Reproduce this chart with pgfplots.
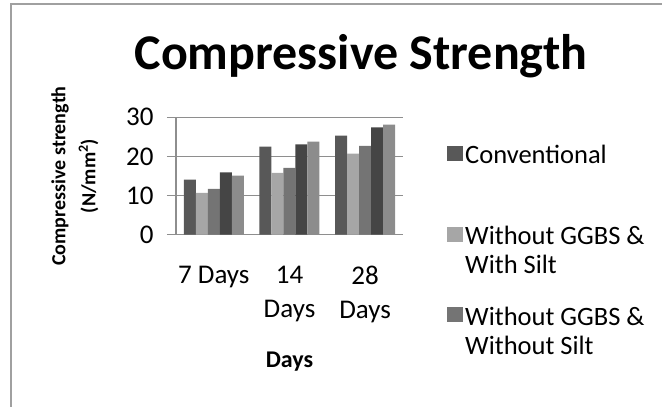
\documentclass[border=0pt]{standalone}
\usepackage{pgfplots}
\pgfplotsset{compat=1.18}
\usepackage{fontspec}
\setmainfont{Carlito}
\definecolor{c1}{HTML}{585858}
\definecolor{c2}{HTML}{A6A6A6}
\definecolor{c3}{HTML}{747474}
\definecolor{c4}{HTML}{454545}
\definecolor{c5}{HTML}{8C8C8C}
\definecolor{gridc}{HTML}{8E8E8E}
\definecolor{framec}{HTML}{A0A0A0}
\begin{document}
\begin{tikzpicture}
\useasboundingbox (0,0) rectangle (662pt,407pt);
\draw[color=framec, line width=2pt] (11pt,-10pt) -- (11pt,403pt) -- (680pt,403pt);
\node[font=\fontsize{50}{60}\selectfont\bfseries, anchor=base] at (361pt,337pt) {Compressive Strength};
\begin{axis}[
  at={(176pt,172.3pt)}, anchor=south west,
  scale only axis, width=227pt, height=117.4pt,
  ybar=0pt, bar width=12pt,
  xmin=-0.5, xmax=2.5,
  xtick={0,1,2}, xticklabels={7 Days,{14\\Days},{28\\Days}},
  ymin=0, ymax=30, ytick={0,10,20,30},
  ymajorgrids, grid style={gridc, line width=1.2pt},
  axis x line*=bottom, axis y line*=left,
  axis line style={gridc, line width=1.2pt, -},
  tick align=outside,
  major tick length=9pt,
  xtick style={draw=none},
  ytick style={gridc, line width=1.2pt},
  /pgf/number format/assume math mode=true,
  tick label style={font=\fontsize{27}{34}\selectfont},
  xticklabel style={align=center, anchor=north, yshift=-19pt},
  yticklabel style={xshift=-10pt},
  every axis y label/.style={at={(axis description cs:-0.445,0.5)}, rotate=90, anchor=center},
  ylabel={Compressive strength\\(N/mm\textsuperscript{2})},
  ylabel style={align=center, font=\bfseries\fontsize{20}{30}\selectfont},
  every axis x label/.style={at={(axis description cs:0.5,-1.084)}, anchor=center},
  xlabel={Days},
  xlabel style={font=\bfseries\fontsize{24}{28}\selectfont},
  legend image code/.code={\fill[#1, draw=none] (0pt,9pt) rectangle (16pt,24pt);},
  legend style={at={(rel axis cs:1.194,0.781)}, anchor=north west, draw=none, fill=none,
    font=\fontsize{26.5}{29}\selectfont, align=left, row sep=28pt, inner sep=0pt},
  legend cell align=left,
]
\addplot[fill=c1, draw=none] coordinates {(0,14.1) (1,22.5) (2,25.3)};
\addlegendentry{Conventional\\\mbox{}}
\addplot[fill=c2, draw=none] coordinates {(0,10.7) (1,15.8) (2,20.7)};
\addlegendentry{Without GGBS \&\\With Silt}
\addplot[fill=c3, draw=none] coordinates {(0,11.7) (1,17.1) (2,22.7)};
\addlegendentry{Without GGBS \&\\Without Silt}
\addplot[fill=c4, draw=none] coordinates {(0,15.9) (1,23.1) (2,27.4)};
\addplot[fill=c5, draw=none] coordinates {(0,15.1) (1,23.8) (2,28.1)};
\end{axis}
\end{tikzpicture}
\end{document}
